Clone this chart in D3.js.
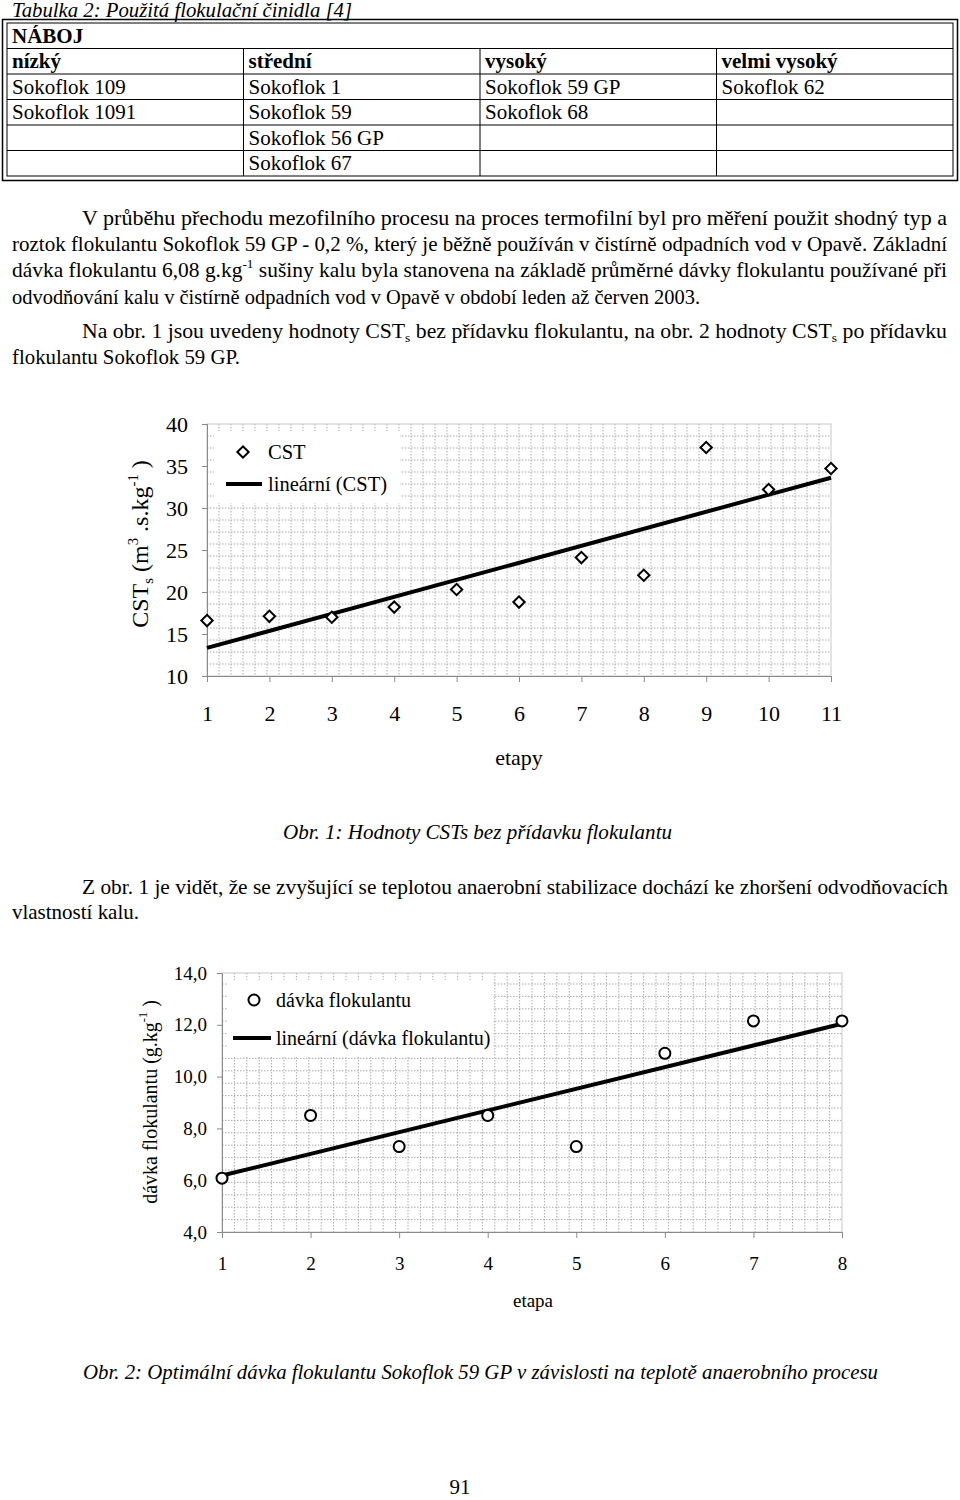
<html>
<head>
<script src="https://d3js.org/d3.v7.min.js"></script>
<style>
body { margin: 0; background: #fff; }
svg { display: block; font-family: 'Liberation Serif', 'Times New Roman', serif; }
</style>
</head>
<body>
<svg id="page"></svg>
<script>

var width = 960, height = 1500;

// Tabulka 2 - data
var tableTitle = "Tabulka 2: Použitá flokulační činidla [4]";
var tableHeader = "NÁBOJ";
var chargeLevels = ["nízký", "střední", "vysoký", "velmi vysoký"];
var flocculants = [
	["Sokoflok 109", "Sokoflok 1", "Sokoflok 59 GP", "Sokoflok 62"],
	["Sokoflok 1091", "Sokoflok 59", "Sokoflok 68", ""],
	["", "Sokoflok 56 GP", "", ""],
	["", "Sokoflok 67", "", ""]
];

// Obr. 1 - CST bez flokulantu
var etapy = [1, 2, 3, 4, 5, 6, 7, 8, 9, 10, 11];
var cstValues = [16.6, 17.1, 17.0, 18.2, 20.3, 18.8, 24.1, 22.0, 37.2, 32.2, 34.7];
var cstTicks = [10, 15, 20, 25, 30, 35, 40];

// Obr. 2 - optimalni davka flokulantu
var etapa = [1, 2, 3, 4, 5, 6, 7, 8];
var davkaValues = [6.08, 8.5, 7.3, 8.5, 7.3, 10.9, 12.15, 12.15];
var davkaTicks = [4, 6, 8, 10, 12, 14];

var svg = d3.select("#page").attr("width", width).attr("height", height);

// text line made of parts: [string, "sub" | "sup" | undefined]
// optionally squeezed/stretched to a width
function textLine(parts, x, y, w, opts) {
	opts = opts || {};
	var size = opts.size || 21;
	if (typeof parts === "string") parts = [[parts]];
	var t = svg.append("text")
		.attr("x", x).attr("y", y)
		.attr("font-size", size)
		.attr("text-anchor", opts.anchor || "start");
	var shift = 0;
	parts.forEach(function (p) {
		var target = p[1] === "sub" ? 4 : p[1] === "sup" ? -9 : 0;
		var s = t.append("tspan").text(p[0]).attr("dy", target - shift);
		if (p[1]) s.attr("font-size", size * 0.62);
		shift = target;
	});
	if (opts.italic) t.attr("font-style", "italic");
	if (opts.bold) t.attr("font-weight", "bold");
	if (w) t.attr("textLength", w).attr("lengthAdjust", "spacingAndGlyphs");
	return t;
}

// ---------- table ----------
textLine(tableTitle, 12, 17, 340, { italic: true, size: 20 });

var colX = d3.scaleLinear().domain([0, 4]).range([7, 953]);
var rowY = d3.scaleLinear().domain([0, 6]).range([23, 176]);

svg.append("rect").attr("x", 2.5).attr("y", 19.5).attr("width", 955).attr("height", 161)
	.attr("fill", "none").attr("stroke", "#000").attr("stroke-width", 1.5);
svg.append("rect").attr("x", colX(0)).attr("y", rowY(0)).attr("width", colX(4) - colX(0)).attr("height", rowY(6) - rowY(0))
	.attr("fill", "none").attr("stroke", "#000").attr("stroke-width", 1);

d3.range(1, 6).forEach(function (r) {
	svg.append("line").attr("x1", colX(0)).attr("x2", colX(4))
		.attr("y1", rowY(r)).attr("y2", rowY(r)).attr("stroke", "#000");
});
d3.range(1, 4).forEach(function (c) {
	svg.append("line").attr("x1", colX(c)).attr("x2", colX(c))
		.attr("y1", rowY(1)).attr("y2", rowY(6)).attr("stroke", "#000");
});

textLine(tableHeader, 12, rowY(1) - 6, null, { bold: true });
chargeLevels.forEach(function (s, c) {
	textLine(s, colX(c) + 5, rowY(2) - 6, null, { bold: true });
});
flocculants.forEach(function (row, r) {
	row.forEach(function (s, c) {
		if (s) textLine(s, colX(c) + 5, rowY(r + 3) - 6);
	});
});

// ---------- paragraphs ----------
textLine("V průběhu přechodu mezofilního procesu na proces termofilní byl pro měření použit shodný typ a", 82, 225, 865);
textLine("roztok flokulantu Sokoflok 59 GP - 0,2 %, který je běžně používán v čistírně odpadních vod v Opavě. Základní", 12, 251, 935);
textLine([["dávka flokulantu 6,08 g.kg"], ["-1", "sup"], [" sušiny kalu byla stanovena na základě průměrné dávky flokulantu používané při"]], 12, 277, 935);
textLine("odvodňování kalu v čistírně odpadních vod v Opavě v období leden až červen 2003.", 12, 304, 688);

textLine([["Na obr. 1 jsou uvedeny hodnoty CST"], ["s", "sub"], [" bez přídavku flokulantu, na obr. 2 hodnoty CST"], ["s", "sub"], [" po přídavku"]], 82, 338, 865);
textLine("flokulantu Sokoflok 59 GP.", 12, 364, 228);

// ---------- charts ----------
function regression(xs, ys) {
	var mx = d3.mean(xs), my = d3.mean(ys);
	var sxy = d3.sum(xs, function (v, i) { return (v - mx) * (ys[i] - my); });
	var sxx = d3.sum(xs, function (v) { return (v - mx) * (v - mx); });
	var b = sxy / sxx;
	return function (v) { return my + b * (v - mx); };
}

function drawChart(cfg) {
	var g = svg.append("g");
	var x = d3.scaleLinear().domain(d3.extent(cfg.xs)).range([cfg.left, cfg.right]);
	var y = d3.scaleLinear().domain(d3.extent(cfg.ticks)).range([cfg.bottom, cfg.top]);

	// dotted background grid
	var grid = g.append("g").attr("stroke", "#aaa").attr("stroke-width", 1).attr("stroke-dasharray", "1.5,1.5");
	d3.range(cfg.left + cfg.step, cfg.right, cfg.step).forEach(function (px) {
		grid.append("line").attr("x1", px).attr("x2", px).attr("y1", cfg.top).attr("y2", cfg.bottom);
	});
	d3.range(cfg.bottom - cfg.step, cfg.top, -cfg.step).forEach(function (py) {
		grid.append("line").attr("x1", cfg.left).attr("x2", cfg.right).attr("y1", py).attr("y2", py);
	});
	g.append("rect").attr("x", cfg.left).attr("y", cfg.top)
		.attr("width", cfg.right - cfg.left).attr("height", cfg.bottom - cfg.top)
		.attr("fill", "none").attr("stroke", "#c8c8c8");

	// legend box
	g.append("rect").attr("x", cfg.legend.x).attr("y", cfg.legend.y)
		.attr("width", cfg.legend.w).attr("height", cfg.legend.h).attr("fill", "#fff");

	// axes
	var ya = g.append("g").attr("transform", "translate(" + cfg.left + ",0)")
		.call(d3.axisLeft(y).tickValues(cfg.ticks).tickSize(5).tickPadding(cfg.yPad).tickFormat(cfg.fmt));
	var xa = g.append("g").attr("transform", "translate(0," + cfg.bottom + ")")
		.call(d3.axisBottom(x).tickValues(cfg.xs).tickSize(6).tickPadding(cfg.xPad).tickFormat(d3.format("d")));
	[ya, xa].forEach(function (a) {
		a.selectAll("path, line").attr("stroke", "#8a8a8a");
		a.selectAll("text").attr("font-size", cfg.fontSize).attr("fill", "#000")
			.attr("font-family", "'Liberation Serif', serif");
	});

	// trend line
	var fit = regression(cfg.xs, cfg.ys);
	var x0 = cfg.xs[0], x1 = cfg.xs[cfg.xs.length - 1];
	g.append("line")
		.attr("x1", x(x0)).attr("y1", y(fit(x0)))
		.attr("x2", x(x1)).attr("y2", y(fit(x1)))
		.attr("stroke", "#000").attr("stroke-width", 4);

	// points
	var pts = g.selectAll(".pt").data(cfg.ys).enter();
	if (cfg.marker === "diamond") {
		pts.append("path")
			.attr("d", d3.symbol(d3.symbolSquare, 64)())
			.attr("transform", function (d, i) { return "translate(" + x(cfg.xs[i]) + "," + y(d) + ") rotate(45)"; })
			.attr("fill", "#fff").attr("stroke", "#000").attr("stroke-width", 2);
	} else {
		pts.append("circle")
			.attr("cx", function (d, i) { return x(cfg.xs[i]); })
			.attr("cy", function (d) { return y(d); })
			.attr("r", 5.5)
			.attr("fill", "#fff").attr("stroke", "#000").attr("stroke-width", 2);
	}

	// legend items
	var L = cfg.legend;
	if (cfg.marker === "diamond") {
		g.append("path").attr("d", d3.symbol(d3.symbolSquare, 64)())
			.attr("transform", "translate(" + L.mx + "," + L.y1 + ") rotate(45)")
			.attr("fill", "#fff").attr("stroke", "#000").attr("stroke-width", 2);
	} else {
		g.append("circle").attr("cx", L.mx).attr("cy", L.y1).attr("r", 5.5)
			.attr("fill", "#fff").attr("stroke", "#000").attr("stroke-width", 2);
	}
	g.append("line").attr("x1", L.lx1).attr("x2", L.lx2).attr("y1", L.y2).attr("y2", L.y2)
		.attr("stroke", "#000").attr("stroke-width", 4);
	g.append("text").attr("x", L.tx).attr("y", L.y1 + 7).attr("font-size", L.size).text(cfg.seriesName);
	g.append("text").attr("x", L.tx).attr("y", L.y2 + 7).attr("font-size", L.size).text(cfg.trendName);

	// axis titles
	g.append("text").attr("x", (cfg.left + cfg.right) / 2 + cfg.xTitleDx).attr("y", cfg.xTitleY)
		.attr("text-anchor", "middle").attr("font-size", cfg.fontSize).text(cfg.xTitle);

	var yt = g.append("text")
		.attr("transform", "translate(" + cfg.yTitlePos[0] + "," + cfg.yTitlePos[1] + ") rotate(-90)")
		.attr("text-anchor", "middle").attr("font-size", cfg.yTitleSize);
	var shift = 0;
	cfg.yTitle.forEach(function (part) {
		var target = part[1] === "sub" ? 5 : part[1] === "sup" ? -10 : 0;
		var s = yt.append("tspan").text(part[0]).attr("dy", target - shift);
		if (part[1]) s.attr("font-size", cfg.yTitleSize * 0.62);
		shift = target;
	});
}

drawChart({
	xs: etapy, ys: cstValues, ticks: cstTicks, fmt: d3.format("d"),
	left: 207, right: 831, top: 424, bottom: 676, step: 12,
	fontSize: 22, yPad: 14, xPad: 23,
	marker: "diamond", seriesName: "CST", trendName: "lineární (CST)",
	legend: { x: 214, y: 431, w: 186, h: 72, mx: 243, y1: 452, y2: 484, lx1: 226, lx2: 262, tx: 268, size: 20.5 },
	xTitle: "etapy", xTitleY: 765, xTitleDx: 0,
	yTitlePos: [148, 544], yTitleSize: 24,
	yTitle: [["CST"], ["s", "sub"], [" (m"], ["3", "sup"], [" .s.kg"], ["-1", "sup"], [" )"]]
});

textLine("Obr. 1: Hodnoty CSTs bez přídavku flokulantu", 283, 839, 389, { italic: true });
textLine("Z obr. 1 je vidět, že se zvyšující se teplotou anaerobní stabilizace dochází ke zhoršení odvodňovacích", 82, 894, 866);
textLine("vlastností kalu.", 12, 919, 127);

drawChart({
	xs: etapa, ys: davkaValues, ticks: davkaTicks, fmt: function (d) { return d3.format(".1f")(d).replace(".", ","); },
	left: 222, right: 842, top: 973, bottom: 1232, step: 12.4,
	fontSize: 19, yPad: 10, xPad: 19,
	marker: "circle", seriesName: "dávka flokulantu", trendName: "lineární (dávka flokulantu)",
	legend: { x: 228, y: 980, w: 265, h: 76, mx: 254, y1: 1000, y2: 1038, lx1: 233, lx2: 271, tx: 276, size: 20 },
	xTitle: "etapa", xTitleY: 1307, xTitleDx: 1,
	yTitlePos: [157, 1102], yTitleSize: 20,
	yTitle: [["dávka flokulantu (g.kg"], ["-1", "sup"], [" )"]]
});

textLine("Obr. 2: Optimální dávka flokulantu Sokoflok 59 GP v závislosti na teplotě anaerobního procesu", 83, 1379, 795, { italic: true });
textLine("91", 460, 1494, null, { anchor: "middle" });

</script>
</body>
</html>
